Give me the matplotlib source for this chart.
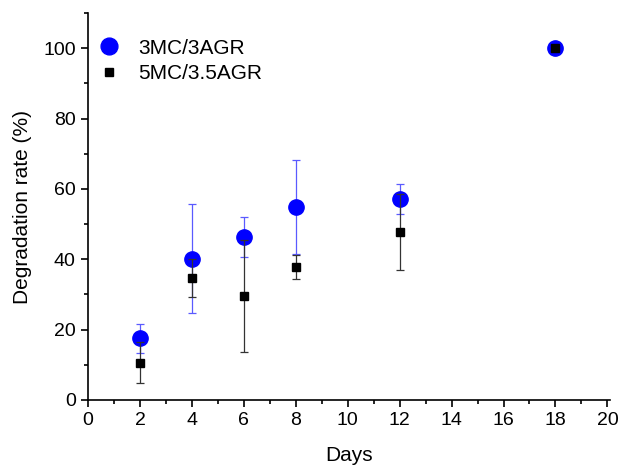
import matplotlib
matplotlib.use("Agg")
import matplotlib.pyplot as plt
from matplotlib.ticker import MultipleLocator

plt.rcParams['font.family'] = ['Liberation Sans', 'DejaVu Sans']

days = [2, 4, 6, 8, 12, 18]
s1_name = "3MC/3AGR"
s1_vals = [17.5, 40.2, 46.4, 54.9, 57.1, 100.0]
s1_err = [4.2, 15.5, 5.7, 13.4, 4.3, 0.0]
s2_name = "5MC/3.5AGR"
s2_vals = [10.6, 34.8, 29.5, 37.8, 47.8, 100.0]
s2_err = [5.9, 5.4, 15.9, 3.3, 10.8, 0.0]

fig = plt.figure(figsize=(6.2, 4.66), dpi=100)
ax = fig.add_axes([88/620, 66/466, 522/620, 387/466])

ax.errorbar(days, s1_vals, yerr=s1_err, fmt='none', ecolor='#5a5aff', elinewidth=0.9,
            capsize=3, capthick=0.9, zorder=2)
ax.plot(days, s1_vals, 'o', color='#0000ff', markersize=11, label=s1_name, zorder=3)
ax.errorbar(days, s2_vals, yerr=s2_err, fmt='none', ecolor='#333333', elinewidth=0.9,
            capsize=3, capthick=0.9, zorder=4)
ax.plot(days, s2_vals, 's', color='black', markersize=5.5, label=s2_name, zorder=5)

ax.set_xlim(0, 20.1)
ax.set_ylim(0, 110)
ax.xaxis.set_major_locator(MultipleLocator(2))
ax.xaxis.set_minor_locator(MultipleLocator(1))
ax.yaxis.set_minor_locator(MultipleLocator(10))
ax.set_yticks([0, 20, 40, 60, 80, 100])
ax.spines['top'].set_visible(False)
ax.spines['right'].set_visible(False)
for s in ['left', 'bottom']:
    ax.spines[s].set_linewidth(1.2)
ax.tick_params(which='major', direction='out', length=4.8, width=1.2, labelsize=14, pad=4)
ax.tick_params(which='minor', direction='out', length=2.8, width=1.2)
ax.set_xlabel("Days", fontsize=15, labelpad=12)
ax.set_ylabel("Degradation rate (%)", fontsize=15, labelpad=8)

leg = ax.legend(loc='upper left', bbox_to_anchor=(0.0, 0.934), frameon=False, fontsize=15,
                handletextpad=0.4, borderaxespad=0.0, borderpad=0.0, labelspacing=0.3,
                markerscale=1.1)

fig.savefig("out.png", dpi=100)
